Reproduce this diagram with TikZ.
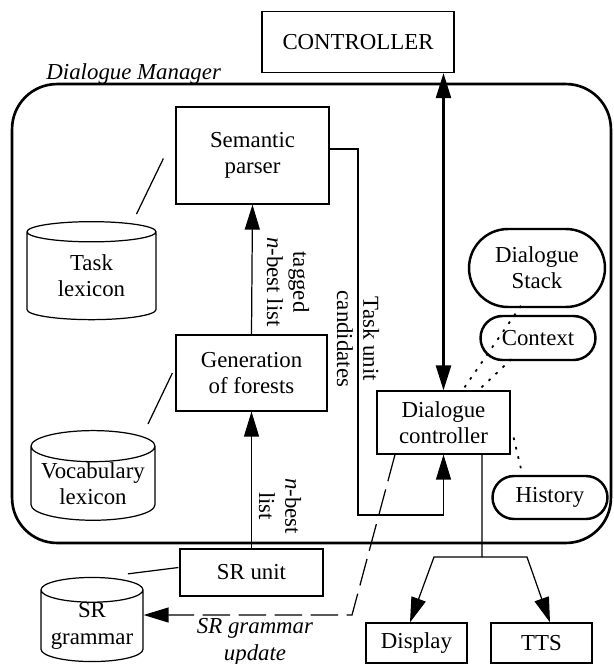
\documentclass[tikz,border=0pt]{standalone}
\usepackage{fontspec}
\setmainfont{Liberation Serif}
\usetikzlibrary{calc}
\usetikzlibrary{arrows.meta}
\usetikzlibrary{shapes.geometric}
\usetikzlibrary{shapes.misc}
\tikzstyle{every node}=[font=\fontsize{13}{15}\selectfont]
\tikzstyle{every path}=[line width=0.7pt]

\begin{document}
\begin{tikzpicture}[x=0.02cm,y=-0.02cm]
		\tikzstyle{arrow} = [-{Triangle[length=5mm, width=3mm]}]
		\tikzstyle{unit} = [draw, align=center, inner sep=0pt]
		\tikzstyle{store} = [draw, cylinder, shape border rotate=90, aspect=0.3, align=center, inner sep=0pt]
		\tikzstyle{memo} = [draw, rounded rectangle, line width=1.4pt, align=center, inner sep=0pt]
		\tikzstyle{dots} = [line width=1pt, dash pattern=on 1.5pt off 4pt]
		\tikzstyle{flowtext} = [rotate=-90, align=center, inner sep=0pt]
		
		\useasboundingbox (0,0) rectangle (614,664);
		
		% frame of the dialogue manager
		\node[draw, line width=1.5pt, rounded corners=0.9cm, minimum width=11.98cm, minimum height=9.18cm] (dm) at (311.5,313.5) {};
		\node[anchor=base west] (dmname) at (40,79) {\itshape Dialogue Manager};
		
		\node[unit, minimum width=3.84cm, minimum height=1.22cm] (ctrl) at (358,42) {CONTROLLER};
		
		\node[unit, minimum width=3.06cm, minimum height=1.94cm] (sem) at (252.5,155.5) {Semantic\\parser};
		\node[unit, minimum width=3.02cm, minimum height=1.52cm] (gen) at (251.5,373) {Generation\\of forests};
		\node[unit, minimum width=2.86cm, minimum height=0.94cm] (sr) at (251.5,572.5) {SR unit};
		\node[unit, minimum width=2.66cm, minimum height=1.26cm] (dc) at (443.5,422.5) {Dialogue\\controller};
		\node[unit, minimum width=2.02cm, minimum height=0.8cm] (disp) at (416.5,643) {Display};
		\node[unit, minimum width=2.02cm, minimum height=0.8cm] (tts) at (541.5,643) {TTS};
		
		\node[store, minimum width=2.58cm, minimum height=1.96cm] (task) at (91.5,276) {Task\\lexicon};
		\node[store, minimum width=2.48cm, minimum height=1.66cm] (voc) at (93,483.5) {Vocabulary\\lexicon};
		\node[store, minimum width=2.04cm, minimum height=1.44cm] (gram) at (92,626) {SR\\grammar};
		
		\node[memo, minimum width=2.72cm, minimum height=1.56cm] (stack) at (537,268) {Dialogue\\Stack};
		\node[memo, minimum width=2.3cm, minimum height=0.88cm] (ctx) at (538,338) {Context};
		\node[memo, minimum width=2.3cm, minimum height=0.86cm] (hist) at (550,497.5) {History};
		
		\coordinate (tu) at (358,515);
		\coordinate (upd) at (352,615);
		\coordinate (split) at (482,557);
		\coordinate (fl) at (434,557);
		\coordinate (fr) at (527,557);
		
		\draw[arrow, line width=1.4pt, {Triangle[length=5mm, width=3mm]}-{Triangle[length=5mm, width=3mm]}] (dc.north |- ctrl.south) -- (dc.north);
		\draw[arrow] (gen.north) -- (sem.south);
		\draw[arrow] (sr.north) -- (gen.south);
		\draw[arrow] ([yshift=0.13cm]sem.east) -| (tu) -| (dc.south);
		
		\draw ($(sem.west)+(-12,3)$) -- ($(task.north)+(45,-7)$);
		\draw ($(gen.west)+(-3,0)$) -- ($(voc.north)+(55,-6)$);
		\draw ($(sr.west)+(-1,-5)$) -- ($(gram.north)+(36,-3)$);
		
		\draw[arrow, dash pattern=on 0.55cm off 0.17cm] ([xshift=-0.97cm]dc.south) -- (upd) -- (gram.east |- upd);
		
		\draw ([xshift=0.77cm]dc.south) -- (split);
		\draw[arrow] (split) -- (fl) -- ([xshift=-0.13cm]disp.north);
		\draw[arrow] (split) -- (fr) -- ([xshift=0.17cm]tts.north);
		
		\draw[dots] ($(dc.north)+(21,-3)$) -- ($(stack.south west)+(14,-4)$);
		\draw[dots] ($(dc.north)+(38,-3)$) -- ($(ctx.south west)+(12,-5)$);
		\draw[dots] ($(dc.east)+(3,15)$) -- ($(hist.north west)+(7,-6)$);
		
		\node[flowtext] (tagged) at (288,282) {tagged\\\textit{n}-best list};
		\node[flowtext] (nbest) at (280,506) {\textit{n}-best\\list};
		\node[flowtext] (cand) at (358,339) {Task unit\\candidates};
		\node[align=center, inner sep=0pt] (updtext) at (255,642) {\itshape SR grammar\\\itshape update};
		
	\end{tikzpicture}
\end{document}
